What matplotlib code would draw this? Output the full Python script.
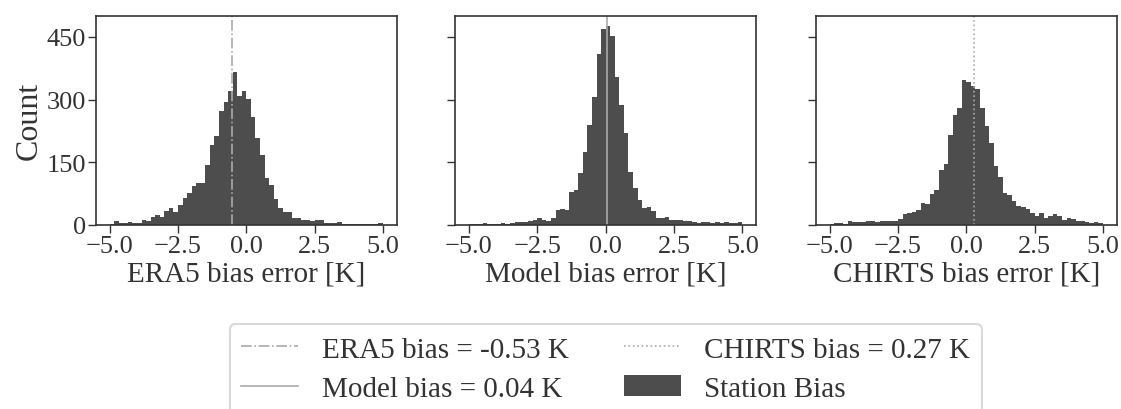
import numpy as np
import matplotlib
matplotlib.use("Agg")
import matplotlib.pyplot as plt

# histogram counts, 60 bins from -5 to 5 K
era5_counts = [2, 9, 5, 5, 7, 5, 5, 12, 10, 19,
               23, 19, 34, 40, 31, 47, 65, 77, 93, 101,
               101, 144, 192, 213, 273, 294, 321, 367, 308, 321,
               302, 259, 209, 168, 113, 96, 62, 40, 30, 32,
               17, 17, 12, 12, 10, 11, 13, 5, 4, 4,
               6, 3, 3, 2, 3, 2, 3, 2, 2, 4]
model_counts = [2, 2, 3, 4, 2, 2, 3, 4, 3, 4,
                6, 6, 8, 10, 13, 17, 13, 10, 17, 36,
                38, 36, 78, 84, 125, 175, 240, 306, 410, 468,
                477, 452, 354, 287, 220, 126, 88, 60, 40, 42,
                33, 17, 17, 19, 13, 13, 13, 10, 9, 6,
                4, 6, 6, 4, 6, 4, 6, 4, 4, 6]
chirts_counts = [2, 4, 4, 2, 10, 8, 8, 6, 10, 10,
                 8, 10, 10, 10, 10, 14, 26, 29, 32, 35,
                 53, 50, 74, 84, 132, 146, 216, 264, 281, 348,
                 341, 333, 326, 281, 237, 197, 141, 114, 77, 72,
                 57, 46, 42, 38, 29, 22, 28, 17, 22, 26,
                 22, 13, 16, 14, 10, 10, 6, 4, 6, 4]

bin_lo = -5.0
bin_hi = 5.0
mean_bias = {"ERA5": -0.53, "Model": 0.04, "CHIRTS": 0.27}
xlabels = ["ERA5 bias error [K]", "Model bias error [K]", "CHIRTS bias error [K]"]
yticks = [0, 150, 300, 450]

plt.rcParams['font.family'] = ['Liberation Serif', 'DejaVu Serif']
plt.rcParams['font.size'] = 19
plt.rcParams['axes.unicode_minus'] = True
txt = '#333333'
plt.rcParams['text.color'] = txt
plt.rcParams['axes.labelcolor'] = txt
plt.rcParams['xtick.color'] = txt
plt.rcParams['ytick.color'] = txt
plt.rcParams['axes.edgecolor'] = txt

fig = plt.figure(figsize=(11.21, 4.10), dpi=100)
lefts = [96/1121, 455.3/1121, 816/1121]
w = 300.7/1121
b = 1 - 226/410
h = (226 - 16.7)/410
axs = []
for i, l in enumerate(lefts):
    if i == 0:
        ax = fig.add_axes([l, b, w, h])
    else:
        ax = fig.add_axes([l, b, w, h], sharey=axs[0])
    axs.append(ax)

edges = np.linspace(bin_lo, bin_hi, len(era5_counts) + 1)
centers = (edges[:-1] + edges[1:]) / 2
bar_col = '#4d4d4d'
line_col = '#aaaaaa'

allc = [era5_counts, model_counts, chirts_counts]
styles = [("ERA5", '-.'), ("Model", '-'), ("CHIRTS", ':')]
handles = []
for i, ax in enumerate(axs):
    _, _, patches = ax.hist(centers, bins=edges, weights=allc[i], color=bar_col,
                            label="Station Bias")
    name, ls = styles[i]
    ln = ax.axvline(mean_bias[name], color=line_col, ls=ls, lw=1.2,
                    label="%s bias = %.2f K" % (name, mean_bias[name]))
    handles.append(ln)
    ax.set_xlabel(xlabels[i], fontsize=21, labelpad=3)
    ax.set_xticks([-5, -2.5, 0, 2.5, 5])
    ax.tick_params(direction='out', length=5.5, width=1, pad=1.5)
    for sp in ax.spines.values():
        sp.set_linewidth(1.2)
    if i > 0:
        plt.setp(ax.get_yticklabels(), visible=False)
handles.append(patches)

axs[0].set_yticks(yticks)
axs[0].set_ylabel("Count", fontsize=23, labelpad=2)

leg = axs[1].legend(handles=handles, labels=[hh.get_label() for hh in handles[:3]] + ["Station Bias"],
                    loc='upper center', bbox_to_anchor=(0.5, -0.475), ncol=2, fontsize=21,
                    handlelength=1.95, columnspacing=1.9, handletextpad=0.8,
                    labelspacing=0.44, frameon=True, edgecolor='#d0d0d0', fancybox=True,
                    borderaxespad=0)
leg.get_frame().set_linewidth(1.5)

fig.savefig("out.png", dpi=100)
